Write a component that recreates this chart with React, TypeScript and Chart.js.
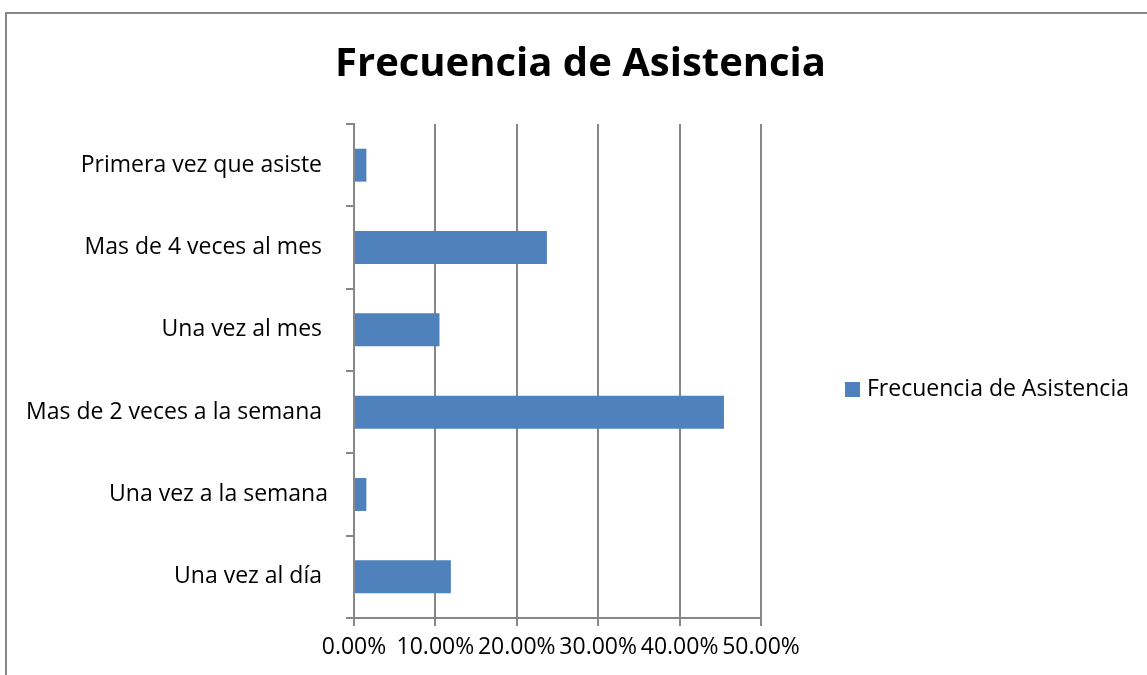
import React, { useEffect, useRef } from 'react';
import { Chart, registerables } from 'chart.js';

Chart.register(...registerables);

const chartTitle = 'Frecuencia de Asistencia';
const seriesName = 'Frecuencia de Asistencia';
const categories = [
  'Primera vez que asiste ',
  'Mas de 4 veces al mes ',
  'Una vez al mes ',
  'Mas de 2 veces a la semana ',
  'Una vez a la semana',
  'Una vez al día ',
];
const values = [0.0152, 0.237, 0.105, 0.4545, 0.0152, 0.119];
const xMin = 0;
const xMax = 0.5;
const xStep = 0.1;

const FONT = '"Open Sans", sans-serif';
const GRID = '#878787';
const BAR = '#4f81bd';

const framePlugin = {
  id: 'frame',
  beforeDraw(chart: any) {
    const ctx = chart.ctx;
    ctx.save();
    ctx.fillStyle = '#ffffff';
    ctx.fillRect(0, 0, chart.width, chart.height);
    ctx.strokeStyle = GRID;
    ctx.lineWidth = 2;
    ctx.beginPath();
    ctx.moveTo(6, chart.height);
    ctx.lineTo(6, 13);
    ctx.lineTo(chart.width, 13);
    ctx.stroke();
    ctx.restore();
  },
};

const legendPlugin = {
  id: 'sideLegend',
  afterDraw(chart: any) {
    const ctx = chart.ctx;
    const a = chart.chartArea;
    const ds = chart.data.datasets[0];
    const x = a.right + 84;
    const yc = (a.top + a.bottom) / 2 + 18.5;
    ctx.save();
    ctx.fillStyle = ds.backgroundColor;
    ctx.fillRect(x, yc - 7.5, 15, 15);
    ctx.fillStyle = '#000000';
    ctx.font = `23px ${FONT}`;
    ctx.textBaseline = 'middle';
    ctx.textAlign = 'left';
    ctx.fillText(ds.label, x + 22, yc);
    ctx.restore();
  },
};

export default function App() {
  const ref = useRef<HTMLCanvasElement | null>(null);
  useEffect(() => {
    if (!ref.current) return;
    const chart = new Chart(ref.current, {
      type: 'bar',
      data: {
        labels: categories,
        datasets: [
          {
            label: seriesName,
            data: values,
            backgroundColor: BAR,
            barPercentage: 0.4,
            categoryPercentage: 1.0,
          },
        ],
      },
      options: {
        indexAxis: 'y',
        responsive: false,
        animation: false,
        layout: { padding: { top: 14, left: 14, right: 0, bottom: 0 } },
        plugins: {
          legend: { display: false },
          tooltip: { enabled: false },
          title: {
            display: true,
            text: chartTitle,
            color: '#000000',
            font: { family: FONT, size: 40, weight: 'bold' },
            padding: { top: 27, bottom: 35 },
          },
        },
        scales: {
          x: {
            type: 'linear',
            min: xMin,
            max: xMax,
            afterFit: (s: any) => {
              s.height = 57;
            },
            ticks: {
              stepSize: xStep,
              autoSkip: false,
              maxRotation: 0,
              color: '#000000',
              padding: 8,
              font: { family: FONT, size: 23 },
              callback: (v: any) => (Number(v) * 100).toFixed(2) + '%',
            },
            grid: { color: GRID, lineWidth: 2, tickLength: 8, drawTicks: true },
            border: { color: GRID, width: 2 },
          },
          y: {
            type: 'category',
            afterFit: (s: any) => {
              s.width = 340;
            },
            ticks: {
              color: '#000000',
              padding: 18,
              font: { family: FONT, size: 23 },
            },
            grid: {
              display: true,
              drawOnChartArea: false,
              drawTicks: true,
              tickLength: 8,
              color: GRID,
              lineWidth: 2,
              offset: true,
            },
            border: { color: GRID, width: 2 },
          },
          legendSpace: {
            type: 'linear',
            position: 'right',
            display: true,
            grid: { display: false },
            border: { display: false },
            ticks: { display: false },
            afterFit: (s: any) => {
              s.width = 386;
            },
          },
        },
      } as any,
      plugins: [framePlugin, legendPlugin],
    });
    return () => chart.destroy();
  }, []);
  return (
    <div style={{ position: 'fixed', left: 0, top: 0, width: 1147, height: 675 }}>
      <canvas ref={ref} width={1147} height={675} style={{ width: 1147, height: 675, display: 'block' }} />
    </div>
  );
}
